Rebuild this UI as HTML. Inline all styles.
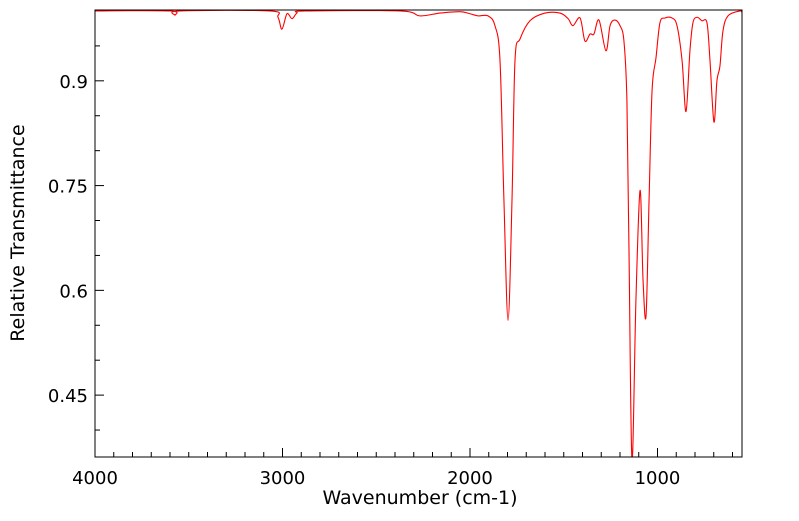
<!DOCTYPE html>
<html><head><meta charset="utf-8"><style>
body{margin:0;background:#fff;width:799px;height:516px;overflow:hidden}
text{font-family:"DejaVu Sans","Liberation Sans",sans-serif;fill:#000}
</style></head><body>
<svg id="chart" width="799" height="516" xmlns="http://www.w3.org/2000/svg">
<defs><clipPath id="clip"><rect x="95" y="10" width="647" height="447"/></clipPath></defs>
<g id="axes"></g>
<path id="line" clip-path="url(#clip)" fill="none" stroke="#ff0000" stroke-width="1.1"/>
<rect x="95" y="10" width="647" height="447" fill="none" stroke="#000" stroke-width="1"/>
<text x="420" y="504" font-size="19" text-anchor="middle">Wavenumber (cm-1)</text>
<text transform="translate(24,233) rotate(-90)" font-size="19" text-anchor="middle">Relative Transmittance</text>
</svg>
<script>
const wavenumbers=[4000,3600,3573,3547,3067,3024,3003,2976,2949,2923,2880,2373,2267,2160,2053,2000,1957,1904,1867,1840,1819,1797,1776,1760,1733,1680,1600,1520,1477,1451,1413,1387,1360,1339,1312,1275,1253,1227,1200,1179,1163,1152,1136,1115,1093,1077,1061,1045,1029,1008,987,960,923,896,869,848,827,811,789,763,736,720,699,683,667,651,624,560,549];
const transmittance=[1.0,1.0,0.994,1.0,1.0,0.991,0.974,0.996,0.989,0.997,1.0,1.0,0.993,0.997,0.999,0.996,0.993,0.993,0.979,0.929,0.729,0.557,0.729,0.929,0.960,0.986,0.997,0.997,0.989,0.979,0.990,0.957,0.967,0.967,0.987,0.943,0.979,0.987,0.979,0.957,0.871,0.657,0.357,0.586,0.743,0.614,0.564,0.729,0.886,0.933,0.983,0.990,0.990,0.979,0.929,0.856,0.943,0.983,0.991,0.986,0.983,0.929,0.841,0.900,0.921,0.971,0.993,1.0,0.997];
const xTicks=[4000,3000,2000,1000];
const yTicks=[0.45,0.6,0.75,0.9];
const yTickLabels=["0.45","0.6","0.75","0.9"];
const X0=95,X1=742,Y0=457,Y1=10,WMAX=4000,WMIN=549.3,TMIN=0.3614,TMAX=1.0014;
function xs(w){return X0+(WMAX-w)/(WMAX-WMIN)*(X1-X0);}
function ys(t){return Y0-(t-TMIN)/(TMAX-TMIN)*(Y0-Y1);}
const ns="http://www.w3.org/2000/svg";
const ax=document.getElementById('axes');
function ln(x1,y1,x2,y2,name){const l=document.createElementNS(ns,'line');
l.setAttribute('x1',x1);l.setAttribute('y1',y1);l.setAttribute('x2',x2);l.setAttribute('y2',y2);
l.setAttribute('stroke','#000');l.setAttribute('stroke-width','1');


ax.appendChild(l);}
function tx(x,y,s,anchor,name){const t=document.createElementNS(ns,'text');
t.setAttribute('x',x);t.setAttribute('y',y);t.setAttribute('font-size','18');t.setAttribute('text-anchor',anchor);t.textContent=s;


ax.appendChild(t);}
for(let w=4000;w>WMIN;w-=100){const x=xs(w);const major=w%1000===0;ln(x,Y0,x,Y0-(major?9:5),major?'x-major-tick':'x-minor-tick');}
xTicks.forEach(w=>tx(xs(w),484,String(w),'middle','x-tick-label'));
for(let k=8;k<=20;k++){const t=k*0.05;if(t<TMIN||t>TMAX)continue;const y=ys(t);const major=yTicks.some(v=>Math.abs(v-t)<1e-6);ln(X0,y,X0+(major?9:5),y,major?'y-major-tick':'y-minor-tick');}
yTicks.forEach((t,i)=>tx(88,ys(t)+7,yTickLabels[i],'end','y-tick-label'));
const P=wavenumbers.map((w,i)=>[xs(w),ys(transmittance[i])]);
let d='M'+P[0][0]+','+P[0][1];
for(let i=0;i<P.length-1;i++){const p0=P[Math.max(0,i-1)],p1=P[i],p2=P[i+1],p3=P[Math.min(P.length-1,i+2)];
const c1=[p1[0]+(p2[0]-p0[0])/6,p1[1]+(p2[1]-p0[1])/6],c2=[p2[0]-(p3[0]-p1[0])/6,p2[1]-(p3[1]-p1[1])/6];
d+=' C'+c1[0]+','+c1[1]+' '+c2[0]+','+c2[1]+' '+p2[0]+','+p2[1];}
document.getElementById('line').setAttribute('d',d);
</script>
</body></html>
